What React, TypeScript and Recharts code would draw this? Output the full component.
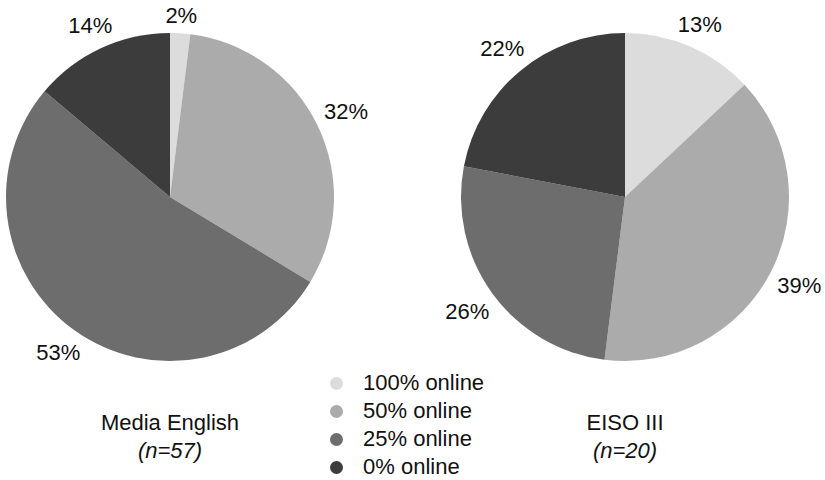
import { PieChart, Pie, Cell, Legend } from "recharts";

const categories = ["100% online", "50% online", "25% online", "0% online"];
const mediaEnglish = [2, 32, 53, 14];
const eisoIII = [13, 39, 26, 22];
const groups = [
  { title: "Media English", n: "(n=57)" },
  { title: "EISO III", n: "(n=20)" },
];

const COLORS = ["#dcdcdc", "#ababab", "#6d6d6d", "#3c3c3c"];
const FONT = "'Liberation Sans', Arial, Helvetica, sans-serif";
const RADIAN = Math.PI / 180;

const toRows = (values: number[]) =>
  categories.map((name, i) => ({ name, value: values[i] }));

// percent labels sit just outside the rim, pushed out by half the text box
function renderLabel(props: any) {
  const { cx, cy, midAngle, outerRadius, value } = props;
  const c = Math.cos(-midAngle * RADIAN);
  const s = Math.sin(-midAngle * RADIAN);
  const r = outerRadius + 7 + Math.abs(c) * 23 + Math.abs(s) * 9;
  return (
    <text
      x={cx + r * c}
      y={cy + r * s}
      textAnchor="middle"
      dominantBaseline="central"
      fill="#111"
      fontSize={22}
      fontFamily={FONT}
    >
      {`${value}%`}
    </text>
  );
}

function LegendBox() {
  return (
    <div style={{ fontFamily: FONT, fontSize: 22, color: "#111" }}>
      {categories.map((c, i) => (
        <div key={c} style={{ display: "flex", alignItems: "center", height: 28 }}>
          <span
            style={{
              width: 13,
              height: 13,
              borderRadius: "50%",
              background: COLORS[i],
              marginRight: 20,
              display: "inline-block",
            }}
          />
          {c}
        </div>
      ))}
    </div>
  );
}

export default function App() {
  const centers = [170, 625];
  return (
    <div style={{ position: "absolute", left: 0, top: 0, width: 825, height: 480, background: "#fff" }}>
      <PieChart width={825} height={480} margin={{ top: 0, right: 0, bottom: 0, left: 0 }}>
        {[mediaEnglish, eisoIII].map((vals, k) => (
          <Pie
            key={k}
            data={toRows(vals)}
            dataKey="value"
            nameKey="name"
            cx={centers[k]}
            cy={197}
            outerRadius={164}
            startAngle={90}
            endAngle={-270}
            stroke="none"
            label={renderLabel}
            labelLine={false}
            isAnimationActive={false}
          >
            {vals.map((_, i) => (
              <Cell key={i} fill={COLORS[i]} />
            ))}
          </Pie>
        ))}
        <Legend
          content={() => <LegendBox />}
          wrapperStyle={{ left: 330, top: 369, width: 200, bottom: "auto" }}
        />
      </PieChart>
      {groups.map((g, k) => (
        <div
          key={g.title}
          style={{
            position: "absolute",
            left: centers[k] - 120,
            top: 409,
            width: 240,
            textAlign: "center",
            fontFamily: FONT,
            fontSize: 22,
            lineHeight: "28px",
            color: "#111",
          }}
        >
          <div>{g.title}</div>
          <div style={{ fontStyle: "italic" }}>{g.n}</div>
        </div>
      ))}
    </div>
  );
}
